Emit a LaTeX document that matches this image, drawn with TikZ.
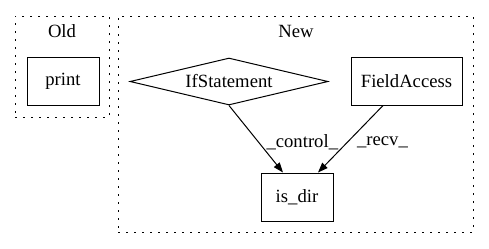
\documentclass[tikz,border=0pt]{standalone}
\usepackage{fontspec}
\setmainfont{Liberation Serif}
\usetikzlibrary{arrows.meta,shapes.geometric}
\begin{document}
\begin{tikzpicture}[x=0.75pt,y=-0.75pt,
  every node/.style={font=\fontsize{14pt}{16pt}\selectfont, inner sep=0pt},
  cluster/.style={draw, line width=0.75pt, dash pattern=on 1.2pt off 4.8pt, rectangle},
  box/.style={draw, line width=0.75pt, rectangle},
  cond/.style={draw, line width=0.75pt, diamond, aspect=4.2},
  edge/.style={draw, line width=0.75pt, -{Triangle[length=7.5pt,width=5.5pt]}},
  elabel/.style={fill=none}]
  \useasboundingbox (0,0) rectangle (489,248);

  % clusters
  \node[cluster, minimum width=70.5pt, minimum height=75.75pt] (oldc) at (62,66.5) {};
  \node (oldl) at (62,31) {Old};
  \node[cluster, minimum width=266.25pt, minimum height=162pt] (newc) at (295.5,124) {};
  \node (newl) at (296,31) {New};

  % nodes
  \node[box, minimum width=54pt, minimum height=36pt] (print) at (63,81) {print};
  \node[cond, minimum width=148.5pt, minimum height=35.25pt] (ifs) at (229,81.5) {IfStatement};
  \node[box, minimum width=83.25pt, minimum height=36pt] (fa) at (406.5,81) {FieldAccess};
  \node[box, minimum width=54pt, minimum height=36pt] (isdir) at (297,197) {is\_dir};

  % edges
  \draw[edge] (ifs.south) -- ([xshift=-10.5pt]isdir.north)
    node[elabel, pos=0.55, right=5.5pt] {\_control\_};
  \draw[edge] ([xshift=-17.6pt]fa.south) -- ([xshift=15.75pt]isdir.north)
    node[elabel, pos=0.55, right=7pt] {\_recv\_};
\end{tikzpicture}
\end{document}
